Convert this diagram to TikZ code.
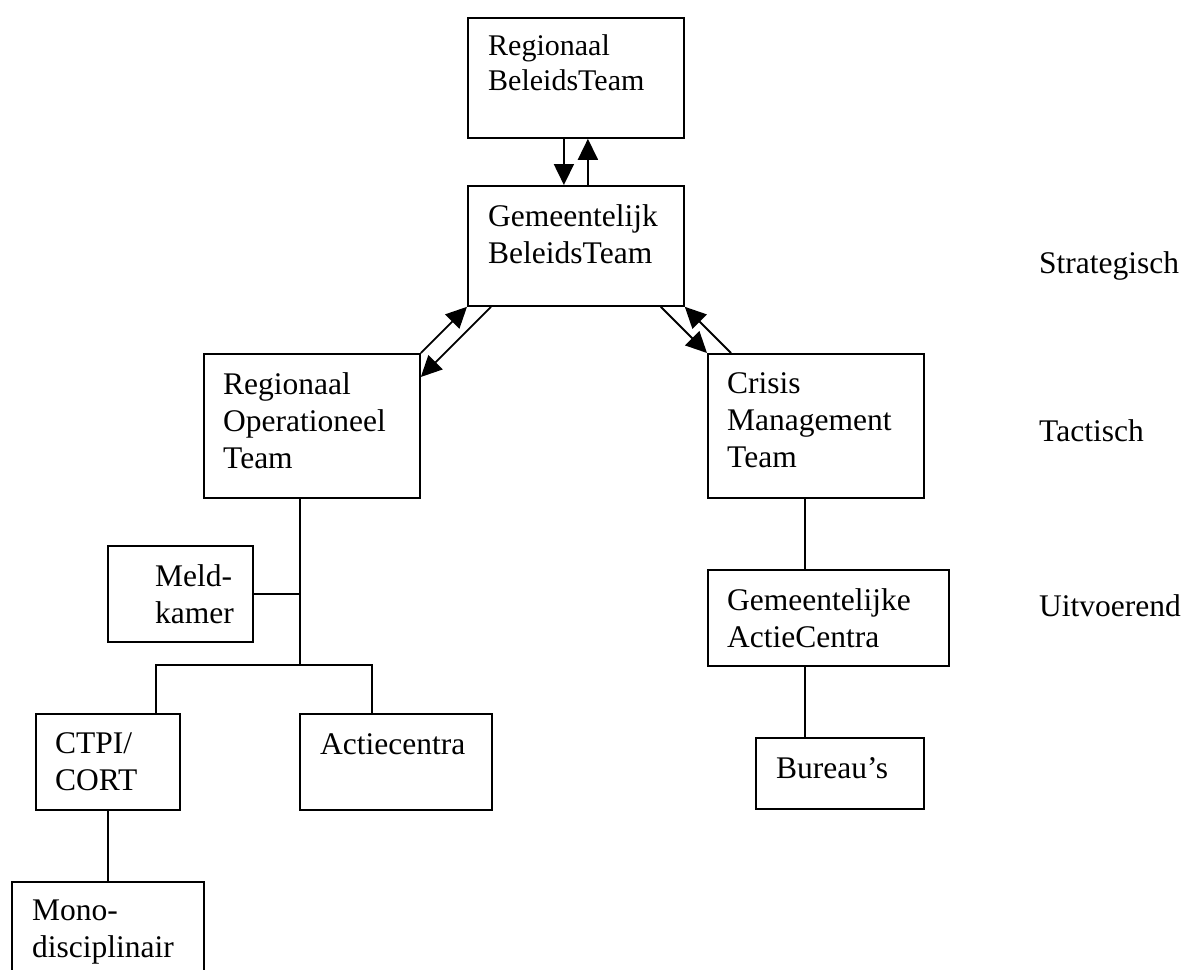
\documentclass[tikz,border=0pt]{standalone}
\usepackage{fontspec}
\setmainfont{Liberation Serif}
\usetikzlibrary{arrows.meta,positioning}

\begin{document}
\begin{tikzpicture}[x=1pt, y=-1pt,
orgbox/.style = {draw, line width=1.8pt, inner sep=0pt, anchor=north west},
boxtext/.style 2 args = {anchor=north west, align=left, inner sep=0pt,
                  xshift=#1pt, yshift=-#2pt, font=\fontsize{31.5}{37}\selectfont},
link/.style = {line width=1.8pt},
flow/.style = {line width=1.8pt, -{Triangle[length=21pt,width=20pt]}}
                    ]
\useasboundingbox (0,0) rectangle (1185,969);
% boxes
\node[orgbox, minimum width=216pt, minimum height=120pt,
      label={[boxtext={21}{17}, font=\fontsize{30}{35}\selectfont]north west:Regionaal\\BeleidsTeam}]
      (rbt) at (467,17) {};
\node[orgbox, minimum width=216pt, minimum height=120pt,
      label={[boxtext={21}{19}]north west:Gemeentelijk\\BeleidsTeam}]
      (gbt) at (467,185) {};
\node[orgbox, minimum width=216pt, minimum height=144pt,
      label={[boxtext={20}{19}]north west:Regionaal\\Operationeel\\Team}]
      (rot) at (203,353) {};
\node[orgbox, minimum width=216pt, minimum height=144pt,
      label={[boxtext={20}{19}]north west:Crisis\\Management\\Team}]
      (cmt) at (707,353) {};
\node[orgbox, minimum width=145pt, minimum height=96pt,
      label={[boxtext={48}{19}]north west:Meld-\\kamer}]
      (meld) at (107,545) {};
\node[orgbox, minimum width=241pt, minimum height=96pt,
      label={[boxtext={20}{19}]north west:Gemeentelijke\\ActieCentra}]
      (gac) at (707,569) {};
\node[orgbox, minimum width=144pt, minimum height=96pt,
      label={[boxtext={20}{19}]north west:CTPI/\\CORT}]
      (ctpi) at (35,713) {};
\node[orgbox, minimum width=192pt, minimum height=96pt,
      label={[boxtext={21}{20}]north west:Actiecentra}]
      (actie) at (299,713) {};
\node[orgbox, minimum width=168pt, minimum height=71pt,
      label={[boxtext={21}{20}]north west:Bureau’s}]
      (bur) at (755,737) {};
\node[orgbox, minimum width=192pt, minimum height=110pt,
      label={[boxtext={21}{19}]north west:Mono-\\disciplinair}]
      (mono) at (11,881) {};
% levels
\foreach \lvl/\y in {Strategisch/273, Tactisch/441, Uitvoerend/616}
    \node[anchor=base west, inner sep=0pt, font=\fontsize{31.5}{37}\selectfont]
        (\lvl) at (1039,\y) {\lvl};
% arrows between the teams
\draw[flow] ([xshift=-12pt]rbt.south) -- ([xshift=-12pt]gbt.north);
\draw[flow] ([xshift=12pt]gbt.north) -- ([xshift=12pt]rbt.south);
\draw[flow] (rot.north east) -- (gbt.south west);
\draw[flow] ([xshift=24pt]gbt.south west) -- ([yshift=-24pt]rot.north east);
\draw[flow] ([xshift=-24pt]gbt.south east) -- (cmt.north west);
\draw[flow] ([xshift=24pt]cmt.north west) -- (gbt.south east);
% tree lines
\coordinate (trunk) at ([xshift=-12pt]rot.south);
\coordinate (fork) at (trunk |- 0,665);
\draw[link] (trunk) -- (fork);
\draw[link] (meld.east) -- (meld.east -| trunk);
\draw[link] ([xshift=48pt]ctpi.north) |- (fork) -| ([xshift=-24pt]actie.north);
\draw[link] (ctpi.south) -- (mono.north);
\coordinate (spine) at ([xshift=-11pt]cmt.south);
\draw[link] (spine) -- (spine |- gac.north)
            (spine |- gac.south) -- (spine |- bur.north);
\end{tikzpicture}
\end{document}
